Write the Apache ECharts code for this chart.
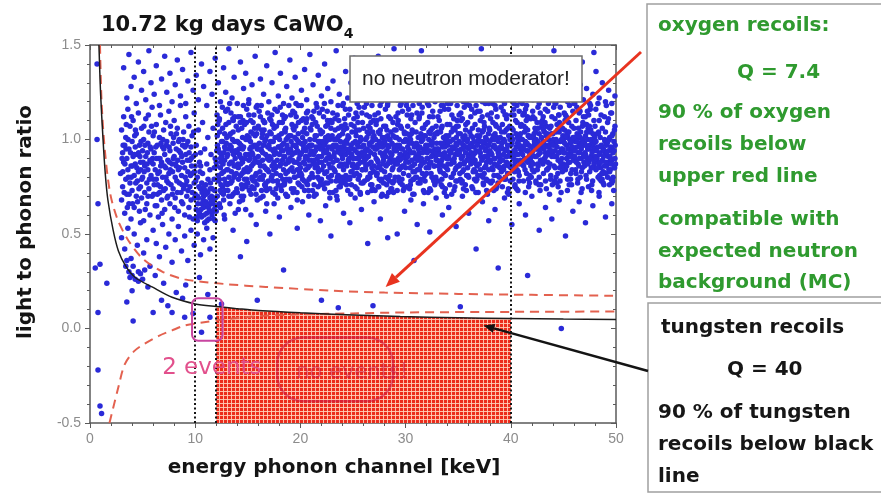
<!DOCTYPE html>
<html>
<head>
<meta charset="utf-8">
<title>CaWO4 light yield vs phonon energy</title>
<script src="https://cdn.jsdelivr.net/npm/echarts@6/dist/echarts.min.js"></script>
<style>
  html, body { margin: 0; padding: 0; background: #fff; }
  #chart { width: 881px; height: 494px; }
</style>
</head>
<body>
<div id="chart"></div>
<script>
// ---------- axes ----------
const xTickValues = [0, 10, 20, 30, 40, 50];
const yTickValues = [-0.5, 0, 0.5, 1.0, 1.5];
const yTickLabels = ['-0.5', '0.0', '0.5', '1.0', '1.5'];

// dotted energy markers [keV]
const cutLines = [10, 12, 40];
// acceptance window for the shaded tungsten region [keV]
const acceptance = [12, 40];

// ---------- bands ----------
// 90 % tungsten recoil line (solid black)
const tungstenLine = [
  [0.85, 1.5], [1.0, 1.25], [1.24, 1.0], [1.45, 0.82], [1.7, 0.68], [2.2, 0.52],
  [2.7, 0.41], [3.4, 0.33], [4.3, 0.27], [5.9, 0.22], [7.8, 0.165], [10, 0.13],
  [12, 0.116], [14, 0.105], [16, 0.095], [20, 0.083], [25, 0.072], [29.5, 0.063],
  [35, 0.057], [40, 0.053], [45, 0.05], [50, 0.048]
];
// oxygen recoil band, upper and lower 90 % lines (red dashed)
const oxygenUpper = [
  [0.95, 1.5], [1.1, 1.2], [1.4, 0.95], [1.9, 0.72], [2.6, 0.58], [3.6, 0.47],
  [5, 0.37], [6.9, 0.30], [9, 0.26], [12.9, 0.235], [16.7, 0.22], [23, 0.20],
  [28, 0.19], [35, 0.183], [42, 0.178], [50, 0.173]
];
const oxygenLower = [
  [1.85, -0.5], [2.7, -0.31], [3.3, -0.19], [4.2, -0.12], [5.2, -0.08], [6.5, -0.04],
  [7.8, -0.01], [9, 0.016], [10.5, 0.03], [13, 0.05], [16, 0.065], [20, 0.075],
  [25, 0.08], [30, 0.085], [40, 0.088], [50, 0.09]
];

// ---------- events (energy keV, light/phonon ratio) ----------
const eventsLow = [
  [2.9,0.82],[3.0,1.05],[3.0,0.68],[3.1,0.93],[3.1,0.75],[3.2,1.12],[3.2,0.88],[3.3,0.61],[3.3,0.97],[3.4,0.79],[3.4,1.01],[3.5,0.71],[3.5,0.90],[3.6,0.84],[3.6,1.16],[3.7,0.66],[3.7,0.95],[3.8,0.77],[3.8,1.07],[3.9,0.86],[3.9,0.58],
  [4.0,0.99],[4.0,0.73],[4.1,0.91],[4.1,1.10],[4.2,0.81],[4.2,0.64],[4.3,0.96],[4.3,0.87],[4.4,0.70],[4.4,1.03],[4.5,0.78],[4.5,0.92],[4.6,1.14],[4.6,0.83],[4.7,0.62],[4.7,0.97],[4.8,0.75],[4.8,0.88],[4.9,1.06],[4.9,0.69],
  [5.0,0.94],[5.0,0.80],[5.1,0.57],[5.1,1.00],[5.2,0.86],[5.2,0.72],[5.3,1.11],[5.3,0.91],[5.4,0.77],[5.4,0.66],[5.5,0.98],[5.5,0.84],[5.6,1.04],[5.6,0.74],[5.7,0.89],[5.7,0.60],[5.8,0.95],[5.8,0.81],[5.9,1.17],[5.9,0.70],
  [6.0,0.87],[6.0,1.02],[6.1,0.76],[6.1,0.93],[6.2,0.65],[6.2,0.84],[6.3,1.08],[6.3,0.79],[6.4,0.97],[6.4,0.71],[6.5,0.90],[6.5,0.59],[6.6,1.01],[6.6,0.83],[6.7,0.75],[6.7,1.13],[6.8,0.88],[6.8,0.68],[6.9,0.96],[6.9,0.80],
  [7.0,1.05],[7.0,0.73],[7.1,0.92],[7.1,0.63],[7.2,0.85],[7.2,1.09],[7.3,0.78],[7.3,0.99],[7.4,0.70],[7.4,0.89],[7.5,1.15],[7.5,0.82],[7.6,0.94],[7.6,0.66],[7.7,0.76],[7.7,1.03],[7.8,0.87],[7.8,0.58],[7.9,0.98],[7.9,0.74],
  [8.0,0.91],[8.0,1.10],[8.1,0.80],[8.1,0.69],[8.2,0.95],[8.2,0.86],[8.3,1.06],[8.3,0.72],[8.4,0.84],[8.4,0.62],[8.5,1.00],[8.5,0.77],[8.6,0.93],[8.6,1.18],[8.7,0.81],[8.7,0.67],[8.8,0.97],[8.8,0.88],[8.9,0.74],[8.9,1.04],
  [9.0,0.85],[9.0,0.60],[9.1,0.92],[9.1,1.12],[9.2,0.78],[9.2,0.70],[9.3,0.99],[9.3,0.83],[9.4,0.64],[9.4,1.07],[9.5,0.89],[9.5,0.75],[9.6,0.96],[9.6,0.68],[9.7,1.02],[9.7,0.82],[9.8,0.58],[9.8,0.91],[9.9,0.77],[9.9,1.14],
  [10.0,0.86],[10.0,0.71],[10.1,0.63],[10.1,0.97],[10.2,0.80],[10.2,0.57],[10.3,1.05],[10.3,0.69],[10.4,0.88],[10.4,0.61],[10.5,0.74],[10.5,0.93],[10.6,0.66],[10.6,0.59],[10.7,0.82],[10.7,1.09],[10.8,0.70],[10.8,0.64],[10.9,0.95],[10.9,0.56],
  [11.0,0.76],[11.0,0.67],[11.1,0.87],[11.1,0.61],[11.2,1.01],[11.2,0.72],[11.3,0.58],[11.3,0.65],[11.4,0.84],[11.4,0.69],[11.5,0.62],[11.5,0.92],[11.6,0.74],[11.6,0.60],[11.7,1.06],[11.7,0.68],[11.8,0.79],[11.8,0.63],[11.9,0.90],[11.9,0.57],
  [3.05,0.90],[3.25,0.72],[3.45,1.08],[3.65,0.80],[3.85,0.93],[4.05,0.66],[4.25,1.02],[4.45,0.85],[4.65,0.74],[4.85,0.99],[5.05,0.88],[5.25,0.63],[5.45,0.93],[5.65,0.79],[5.85,1.07],[6.05,0.71],[6.25,0.96],[6.45,0.82],[6.65,0.90],[6.85,0.61],
  [7.05,0.86],[7.25,0.97],[7.45,0.77],[7.65,1.07],[7.85,0.83],[8.05,0.64],[8.25,0.78],[8.45,0.94],[8.65,0.72],[8.85,1.00],[9.05,0.80],[9.25,0.89],[9.45,0.59],[9.65,0.86],[9.85,1.04],[10.05,0.78],[10.25,0.66],[10.45,0.83],[10.65,0.72],[10.85,0.60],
  [11.05,0.71],[11.25,0.64],[11.45,0.77],[11.65,0.66],[11.85,0.73],[10.15,0.59],[10.35,0.75],[10.55,0.63],[10.75,0.68],[10.95,0.73],[11.15,0.66],[11.35,0.62],[11.55,0.70],[11.75,0.58],[11.95,0.65],
  [3.15,0.97],[3.55,0.64],[3.95,1.12],[4.35,0.77],[4.75,0.91],[5.15,0.83],[5.55,1.13],[5.95,0.90],[6.35,0.65],[6.75,0.98],[7.15,0.74],[7.55,0.88],[7.95,1.01],[8.35,0.89],[8.75,0.76],[9.15,0.97],[9.55,0.81],[9.95,0.69],
  [3.12,0.83],[3.42,0.95],[3.72,0.71],[4.02,0.86],[4.32,1.05],[4.62,0.93],[4.92,0.79],[5.22,0.97],[5.52,0.70],[5.82,0.88],[6.12,1.04],[6.42,0.76],[6.72,0.86],[7.02,0.95],[7.32,0.69],[7.62,0.84],[7.92,0.90],[8.22,1.03],[8.52,0.85],[8.82,0.66],
  [9.12,0.76],[9.42,0.93],[9.72,0.72],[10.02,0.92],[10.32,0.62],[10.62,0.77],[10.92,0.66],[11.22,0.79],[11.52,0.67],[11.82,0.85],[3.32,0.87],[3.62,1.00],[3.92,0.80],[4.22,0.92],[4.52,0.67],[4.82,0.84],[5.12,1.07],[5.42,0.87],[5.72,0.96],[6.02,0.79],
  [6.32,0.90],[6.62,0.72],[6.92,1.00],[7.22,0.80],[7.52,0.96],[7.82,0.71],[8.12,0.87],[8.42,0.99],[8.72,0.91],[9.02,0.96],[9.32,0.73],[9.62,0.90],[9.92,0.83],[10.22,0.70],[10.52,0.86],[10.82,0.75],[11.12,0.57],[11.42,0.74],[11.72,0.62],[11.92,0.69]
];

const eventsMid = [
  [12.0,0.88],[12.1,1.02],[12.1,0.70],[12.2,0.95],[12.3,0.79],[12.3,1.11],[12.4,0.85],[12.4,0.64],[12.5,0.99],[12.5,0.91],[12.6,0.75],[12.6,1.06],[12.7,0.83],[12.7,0.68],[12.8,0.96],[12.8,0.89],[12.9,1.15],[12.9,0.77],[12.0,0.62],[12.2,0.81],[12.5,0.72],[12.8,1.03],[12.35,0.93],[12.65,0.87],[12.95,0.98],[12.15,1.08],[12.45,0.76],[12.75,0.60],[12.05,0.94],
  [13.0,0.84],[13.0,1.01],[13.1,0.73],[13.1,0.92],[13.2,1.09],[13.2,0.80],[13.3,0.97],[13.3,0.66],[13.4,0.88],[13.4,1.14],[13.5,0.78],[13.5,0.94],[13.6,1.04],[13.6,0.71],[13.7,0.86],[13.7,0.99],[13.8,0.61],[13.8,0.90],[13.9,1.07],[13.9,0.82],[13.15,0.95],[13.45,0.83],[13.75,1.12],[13.05,0.76],[13.35,1.03],[13.65,0.92],[13.95,0.74],[13.25,0.87],[13.55,1.00],
  [14.0,0.93],[14.0,0.72],[14.1,1.05],[14.1,0.85],[14.2,0.98],[14.2,0.67],[14.3,0.81],[14.3,1.12],[14.4,0.90],[14.4,0.76],[14.5,1.01],[14.5,0.88],[14.6,0.70],[14.6,0.96],[14.7,1.08],[14.7,0.83],[14.8,0.92],[14.8,0.63],[14.9,1.16],[14.9,0.79],[14.05,0.87],[14.35,0.97],[14.65,0.84],[14.95,1.02],[14.25,0.91],[14.55,1.10],[14.85,0.75],[14.15,0.95],[14.45,0.82],
  [15.0,1.00],[15.0,0.77],[15.1,0.89],[15.1,1.13],[15.2,0.84],[15.2,0.95],[15.3,0.71],[15.3,1.04],[15.4,0.93],[15.4,0.80],[15.5,1.09],[15.5,0.87],[15.6,0.97],[15.6,0.74],[15.7,1.02],[15.7,0.90],[15.8,0.82],[15.8,1.17],[15.9,0.95],[15.9,0.68],[15.05,0.92],[15.35,0.86],[15.65,1.06],[15.95,0.88],[15.25,0.99],[15.55,0.78],[15.85,1.03],[15.15,0.73],[15.45,0.96],
  [16.0,0.91],[16.0,1.07],[16.1,0.79],[16.1,0.98],[16.2,1.12],[16.2,0.86],[16.3,0.94],[16.3,0.73],[16.4,1.03],[16.4,0.89],[16.5,0.81],[16.5,0.97],[16.6,1.09],[16.6,0.76],[16.7,0.92],[16.7,1.00],[16.8,0.84],[16.8,0.66],[16.9,0.96],[16.9,1.14],[16.05,0.88],[16.35,1.01],[16.65,0.85],[16.95,0.78],[16.25,0.95],[16.55,1.05],[16.85,0.90],[16.15,0.83],[16.45,0.70],
  [17.0,0.97],[17.0,0.83],[17.1,1.04],[17.1,0.74],[17.2,0.90],[17.2,1.10],[17.3,0.86],[17.3,0.99],[17.4,0.78],[17.4,0.94],[17.5,1.06],[17.5,0.88],[17.6,0.71],[17.6,1.01],[17.7,0.93],[17.7,0.82],[17.8,1.15],[17.8,0.89],[17.9,0.96],[17.9,0.76],[17.05,0.91],[17.35,1.08],[17.65,0.85],[17.95,1.02],[17.25,0.80],[17.55,0.95],[17.85,0.69],[17.15,0.99],[17.45,0.87],
  [18.0,0.92],[18.0,1.09],[18.1,0.81],[18.1,0.96],[18.2,0.73],[18.2,1.03],[18.3,0.89],[18.3,1.13],[18.4,0.84],[18.4,0.98],[18.5,0.77],[18.5,0.91],[18.6,1.06],[18.6,0.87],[18.7,0.95],[18.7,0.70],[18.8,1.01],[18.8,0.83],[18.9,0.93],[18.9,1.18],[18.05,0.86],[18.35,0.94],[18.65,1.00],[18.95,0.79],[18.25,0.97],[18.55,1.04],[18.85,0.88],[18.15,0.75],[18.45,1.11],
  [19.0,0.90],[19.0,0.78],[19.1,1.02],[19.1,0.94],[19.2,0.85],[19.2,1.08],[19.3,0.72],[19.3,0.97],[19.4,1.05],[19.4,0.88],[19.5,0.93],[19.5,0.80],[19.6,1.12],[19.6,0.96],[19.7,0.84],[19.7,0.68],[19.8,0.99],[19.8,1.03],[19.9,0.87],[19.9,0.76],[19.05,0.95],[19.35,0.83],[19.65,1.00],[19.95,0.92],[19.25,0.89],[19.55,1.07],[19.85,0.81],[19.15,0.74],[19.45,1.14],
  [20.0,0.98],[20.0,0.85],[20.1,0.93],[20.1,1.10],[20.2,0.79],[20.2,1.01],[20.3,0.88],[20.3,0.95],[20.4,0.73],[20.4,1.06],[20.5,0.91],[20.5,0.84],[20.6,1.03],[20.6,0.77],[20.7,0.96],[20.7,1.15],[20.8,0.89],[20.8,0.70],[20.9,1.00],[20.9,0.92],[20.05,0.82],[20.35,1.04],[20.65,0.90],[20.95,0.80],[20.25,0.97],[20.55,1.09],[20.85,0.86],[20.15,0.75],[20.45,0.99],
  [21.0,0.94],[21.0,1.05],[21.1,0.82],[21.1,0.97],[21.2,1.11],[21.2,0.87],[21.3,0.76],[21.3,0.93],[21.4,1.02],[21.4,0.85],[21.5,0.96],[21.5,0.71],[21.6,0.90],[21.6,1.07],[21.7,0.83],[21.7,0.99],[21.8,1.14],[21.8,0.88],[21.9,0.78],[21.9,0.95],[21.05,0.89],[21.35,1.00],[21.65,0.80],[21.95,1.03],[21.25,0.92],[21.55,0.86],[21.85,0.97],[21.15,0.73],[21.45,1.09],
  [22.0,0.91],[22.0,0.79],[22.1,1.04],[22.1,0.95],[22.2,0.86],[22.2,1.12],[22.3,0.98],[22.3,0.74],[22.4,0.89],[22.4,1.01],[22.5,0.83],[22.5,0.94],[22.6,1.08],[22.6,0.77],[22.7,0.92],[22.7,0.87],[22.8,1.00],[22.8,0.69],[22.9,0.96],[22.9,1.06],[22.05,0.84],[22.35,0.93],[22.65,1.02],[22.95,0.81],[22.25,0.97],[22.55,1.15],[22.85,0.90],[22.15,0.76],[22.45,0.99],
  [23.0,0.95],[23.0,1.09],[23.1,0.88],[23.1,0.72],[23.2,1.00],[23.2,0.91],[23.3,0.83],[23.3,1.05],[23.4,0.97],[23.4,0.78],[23.5,1.13],[23.5,0.89],[23.6,0.94],[23.6,0.81],[23.7,1.02],[23.7,0.86],[23.8,0.75],[23.8,0.99],[23.9,1.07],[23.9,0.92],[23.05,0.85],[23.35,0.96],[23.65,1.10],[23.95,0.80],[23.25,0.93],[23.55,1.01],[23.85,0.87],[23.15,0.97],[23.45,0.70],
  [24.0,0.90],[24.0,1.03],[24.1,0.84],[24.1,0.96],[24.2,1.11],[24.2,0.77],[24.3,0.92],[24.3,0.99],[24.4,0.86],[24.4,1.06],[24.5,0.73],[24.5,0.94],[24.6,1.01],[24.6,0.88],[24.7,0.80],[24.7,1.16],[24.8,0.97],[24.8,0.83],[24.9,0.91],[24.9,1.04],[24.05,0.79],[24.35,0.95],[24.65,0.93],[24.95,0.86],[24.25,1.08],[24.55,0.89],[24.85,0.76],[24.15,0.98],[24.45,1.00],
  [25.0,0.87],[25.0,0.98],[25.1,1.07],[25.1,0.81],[25.2,0.94],[25.2,0.75],[25.3,1.02],[25.3,0.90],[25.4,0.85],[25.4,1.12],[25.5,0.96],[25.5,0.79],[25.6,0.92],[25.6,1.05],[25.7,0.88],[25.7,0.71],[25.8,1.00],[25.8,0.93],[25.9,0.84],[25.9,1.09],[25.05,0.95],[25.35,0.82],[25.65,0.99],[25.95,0.77],[25.25,1.04],[25.55,0.90],[25.85,1.14],[25.15,0.86],[25.45,0.97]
];

const eventsHigh = [
  [26.0,0.93],[26.0,1.06],[26.1,0.78],[26.1,0.89],[26.2,1.00],[26.2,0.84],[26.3,1.13],[26.3,0.95],[26.4,0.72],[26.4,0.91],[26.5,1.03],[26.5,0.87],[26.6,0.97],[26.6,0.80],[26.7,1.09],[26.7,0.93],[26.8,0.85],[26.8,0.76],[26.9,1.01],[26.9,0.96],[26.05,0.88],[26.35,1.04],[26.65,0.82],[26.95,1.10],[26.25,0.90],[26.55,0.98],[26.85,0.74],[26.15,0.94],[26.45,1.07],
  [27.0,0.86],[27.0,1.02],[27.1,0.95],[27.1,0.73],[27.2,0.90],[27.2,1.08],[27.3,0.82],[27.3,0.97],[27.4,1.14],[27.4,0.88],[27.5,0.79],[27.5,0.99],[27.6,0.93],[27.6,1.05],[27.7,0.84],[27.7,0.70],[27.8,0.96],[27.8,1.01],[27.9,0.89],[27.9,0.77],[27.05,0.92],[27.35,0.85],[27.65,1.11],[27.95,0.98],[27.25,0.81],[27.55,1.03],[27.85,0.91],[27.15,1.00],[27.45,0.75],
  [28.0,0.99],[28.0,0.83],[28.1,0.91],[28.1,1.07],[28.2,0.76],[28.2,0.94],[28.3,1.02],[28.3,0.87],[28.4,0.96],[28.4,1.12],[28.5,0.81],[28.5,0.90],[28.6,1.04],[28.6,0.74],[28.7,0.92],[28.7,0.98],[28.8,0.85],[28.8,1.09],[28.9,0.78],[28.9,0.95],[28.05,1.01],[28.35,0.79],[28.65,0.88],[28.95,1.05],[28.25,0.97],[28.55,0.93],[28.85,0.72],[28.15,0.86],[28.45,1.00],
  [29.0,0.94],[29.0,0.80],[29.1,1.05],[29.1,0.88],[29.2,0.97],[29.2,0.73],[29.3,0.90],[29.3,1.10],[29.4,0.84],[29.4,1.00],[29.5,0.92],[29.5,0.77],[29.6,1.06],[29.6,0.95],[29.7,0.86],[29.7,1.15],[29.8,0.99],[29.8,0.82],[29.9,0.91],[29.9,1.03],[29.05,0.87],[29.35,0.96],[29.65,0.79],[29.95,0.93],[29.25,1.08],[29.55,0.85],[29.85,0.74],[29.15,1.01],[29.45,0.89],
  [30.0,1.00],[30.0,0.85],[30.1,0.92],[30.1,0.75],[30.2,1.07],[30.2,0.96],[30.3,0.88],[30.3,0.81],[30.4,1.02],[30.4,0.94],[30.5,0.78],[30.5,1.11],[30.6,0.89],[30.6,0.98],[30.7,0.83],[30.7,1.04],[30.8,0.93],[30.8,0.71],[30.9,0.97],[30.9,1.09],[30.05,0.90],[30.35,1.00],[30.65,0.86],[30.95,0.80],[30.25,0.95],[30.55,1.03],[30.85,0.87],[30.15,1.13],[30.45,0.76],
  [31.0,0.91],[31.0,1.04],[31.1,0.84],[31.1,0.97],[31.2,0.77],[31.2,1.01],[31.3,0.93],[31.3,1.12],[31.4,0.86],[31.4,0.79],[31.5,0.99],[31.5,0.90],[31.6,1.06],[31.6,0.82],[31.7,0.95],[31.7,0.73],[31.8,1.02],[31.8,0.88],[31.9,0.94],[31.9,1.08],[31.05,0.80],[31.35,0.96],[31.65,1.00],[31.95,0.85],[31.25,0.92],[31.55,1.14],[31.85,0.78],[31.15,0.89],[31.45,1.03],
  [32.0,0.96],[32.0,0.82],[32.1,1.09],[32.1,0.90],[32.2,0.85],[32.2,1.00],[32.3,0.74],[32.3,0.94],[32.4,1.05],[32.4,0.88],[32.5,0.97],[32.5,0.80],[32.6,1.12],[32.6,0.92],[32.7,0.86],[32.7,1.01],[32.8,0.77],[32.8,0.95],[32.9,1.07],[32.9,0.89],[32.05,0.93],[32.35,1.03],[32.65,0.79],[32.95,0.98],[32.25,0.87],[32.55,1.06],[32.85,0.91],[32.15,0.72],[32.45,0.99],
  [33.0,0.89],[33.0,1.03],[33.1,0.95],[33.1,0.78],[33.2,1.10],[33.2,0.87],[33.3,0.98],[33.3,0.83],[33.4,0.92],[33.4,1.06],[33.5,0.75],[33.5,0.96],[33.6,1.01],[33.6,0.86],[33.7,0.93],[33.7,1.16],[33.8,0.81],[33.8,0.99],[33.9,0.90],[33.9,0.70],[33.05,1.04],[33.35,0.88],[33.65,0.97],[33.95,1.08],[33.25,0.84],[33.55,0.91],[33.85,1.02],[33.15,0.94],[33.45,0.79],
  [34.0,0.97],[34.0,0.84],[34.1,1.02],[34.1,0.91],[34.2,0.76],[34.2,1.08],[34.3,0.93],[34.3,0.87],[34.4,1.13],[34.4,0.80],[34.5,0.95],[34.5,1.00],[34.6,0.88],[34.6,0.73],[34.7,1.05],[34.7,0.92],[34.8,0.85],[34.8,0.98],[34.9,1.10],[34.9,0.78],[34.05,0.90],[34.35,1.04],[34.65,0.96],[34.95,0.86],[34.25,0.99],[34.55,0.82],[34.85,1.07],[34.15,0.94],[34.45,0.89],
  [35.0,0.92],[35.0,1.07],[35.1,0.86],[35.1,0.99],[35.2,1.03],[35.2,0.79],[35.3,0.95],[35.3,0.90],[35.4,0.83],[35.4,1.11],[35.5,0.97],[35.5,0.74],[35.6,1.00],[35.6,0.88],[35.7,0.93],[35.7,1.05],[35.8,0.81],[35.8,0.96],[35.9,1.09],[35.9,0.85],[35.05,0.94],[35.35,0.77],[35.65,1.02],[35.95,0.91],[35.25,1.14],[35.55,0.87],[35.85,0.99],[35.15,0.82],[35.45,1.01],
  [36.0,0.95],[36.0,0.80],[36.1,1.04],[36.1,0.92],[36.2,0.87],[36.2,1.12],[36.3,0.98],[36.3,0.75],[36.4,0.90],[36.4,1.01],[36.5,0.84],[36.5,0.96],[36.6,1.08],[36.6,0.89],[36.7,0.78],[36.7,0.94],[36.8,1.02],[36.8,0.86],[36.9,0.99],[36.9,0.72],[36.05,0.91],[36.35,1.06],[36.65,0.83],[36.95,1.00],[36.25,0.93],[36.55,0.79],[36.85,1.15],[36.15,0.97],[36.45,0.88],
  [37.0,0.99],[37.0,0.87],[37.1,0.93],[37.1,1.10],[37.2,0.81],[37.2,0.96],[37.3,1.04],[37.3,0.90],[37.4,0.76],[37.4,0.98],[37.5,1.07],[37.5,0.85],[37.6,0.94],[37.6,1.01],[37.7,0.88],[37.7,0.73],[37.8,0.97],[37.8,1.13],[37.9,0.84],[37.9,0.92],[37.05,1.02],[37.35,0.80],[37.65,0.95],[37.95,1.06],[37.25,0.89],[37.55,0.99],[37.85,0.78],[37.15,0.91],[37.45,1.09],
  [38.0,0.94],[38.0,1.05],[38.1,0.89],[38.1,0.77],[38.2,1.00],[38.2,0.92],[38.3,0.84],[38.3,1.09],[38.4,0.97],[38.4,0.81],[38.5,1.03],[38.5,0.90],[38.6,0.74],[38.6,0.95],[38.7,1.12],[38.7,0.86],[38.8,0.99],[38.8,0.93],[38.9,0.80],[38.9,1.06],[38.05,0.88],[38.35,0.96],[38.65,1.01],[38.95,0.85],[38.25,0.78],[38.55,1.08],[38.85,0.91],[38.15,1.14],[38.45,0.87],
  [39.0,0.90],[39.0,1.01],[39.1,0.96],[39.1,0.83],[39.2,1.08],[39.2,0.75],[39.3,0.92],[39.3,0.99],[39.4,0.86],[39.4,1.04],[39.5,0.79],[39.5,0.94],[39.6,1.11],[39.6,0.88],[39.7,0.97],[39.7,0.82],[39.8,1.02],[39.8,0.71],[39.9,0.93],[39.9,1.07],[39.05,0.85],[39.35,1.00],[39.65,0.91],[39.95,0.78],[39.25,0.95],[39.55,1.05],[39.85,0.87],[39.15,0.98],[39.45,1.13]
];

const eventsTop = [
  [40.0,0.97],[40.0,0.85],[40.1,1.06],[40.1,0.91],[40.2,0.79],[40.2,1.00],[40.3,0.94],[40.3,1.13],[40.4,0.88],[40.4,0.76],[40.5,1.03],[40.5,0.96],[40.6,0.84],[40.6,1.09],[40.7,0.92],[40.7,0.99],[40.8,1.15],[40.8,0.81],[40.9,0.95],[40.9,0.89],[40.05,1.02],[40.35,0.83],[40.65,0.98],[40.95,1.07],[40.25,0.90],[40.55,0.74],[40.85,1.01],[40.15,0.93],[40.45,1.10],
  [41.0,0.93],[41.0,1.08],[41.1,0.87],[41.1,1.00],[41.2,0.95],[41.2,0.78],[41.3,1.04],[41.3,0.90],[41.4,0.99],[41.4,1.16],[41.5,0.82],[41.5,0.94],[41.6,1.05],[41.6,0.88],[41.7,0.97],[41.7,0.75],[41.8,1.01],[41.8,0.92],[41.9,0.86],[41.9,1.11],[41.05,0.96],[41.35,0.84],[41.65,1.02],[41.95,0.80],[41.25,1.07],[41.55,0.98],[41.85,0.91],[41.15,1.13],[41.45,0.89],
  [42.0,1.01],[42.0,0.88],[42.1,0.94],[42.1,1.12],[42.2,0.83],[42.2,0.97],[42.3,1.06],[42.3,0.91],[42.4,0.77],[42.4,1.00],[42.5,0.95],[42.5,1.09],[42.6,0.86],[42.6,0.99],[42.7,1.03],[42.7,0.80],[42.8,0.93],[42.8,1.14],[42.9,0.89],[42.9,0.97],[42.05,0.84],[42.35,1.04],[42.65,0.92],[42.95,1.07],[42.25,0.99],[42.55,0.87],[42.85,0.76],[42.15,1.02],[42.45,0.95],
  [43.0,0.96],[43.0,1.10],[43.1,0.82],[43.1,0.99],[43.2,1.04],[43.2,0.90],[43.3,0.93],[43.3,0.78],[43.4,1.07],[43.4,0.97],[43.5,0.88],[43.5,1.15],[43.6,1.00],[43.6,0.85],[43.7,0.94],[43.7,1.06],[43.8,0.81],[43.8,0.98],[43.9,1.12],[43.9,0.91],[43.05,0.87],[43.35,1.02],[43.65,0.96],[43.95,0.76],[43.25,1.09],[43.55,0.92],[43.85,1.03],[43.15,0.95],[43.45,0.84],
  [44.0,0.92],[44.0,1.03],[44.1,0.98],[44.1,0.86],[44.2,1.11],[44.2,0.94],[44.3,0.80],[44.3,1.00],[44.4,0.96],[44.4,1.08],[44.5,0.89],[44.5,0.75],[44.6,1.04],[44.6,0.93],[44.7,0.99],[44.7,1.17],[44.8,0.87],[44.8,0.95],[44.9,1.06],[44.9,0.83],[44.05,1.00],[44.35,0.91],[44.65,0.85],[44.95,1.02],[44.25,0.97],[44.55,1.13],[44.85,0.90],[44.15,0.78],[44.45,1.05],
  [45.0,0.99],[45.0,0.87],[45.1,1.05],[45.1,0.93],[45.2,0.84],[45.2,1.13],[45.3,0.97],[45.3,0.90],[45.4,1.02],[45.4,0.79],[45.5,0.95],[45.5,1.09],[45.6,0.88],[45.6,1.00],[45.7,0.93],[45.7,0.82],[45.8,1.07],[45.8,0.96],[45.9,0.91],[45.9,1.15],[45.05,0.85],[45.35,1.04],[45.65,0.98],[45.95,0.89],[45.25,1.01],[45.55,0.76],[45.85,0.94],[45.15,1.10],[45.45,0.92],
  [46.0,0.94],[46.0,1.06],[46.1,0.89],[46.1,0.99],[46.2,1.10],[46.2,0.82],[46.3,0.96],[46.3,1.03],[46.4,0.87],[46.4,0.93],[46.5,1.14],[46.5,0.98],[46.6,0.80],[46.6,1.01],[46.7,0.95],[46.7,0.90],[46.8,1.07],[46.8,0.85],[46.9,0.97],[46.9,1.12],[46.05,0.91],[46.35,0.77],[46.65,1.04],[46.95,0.88],[46.25,1.00],[46.55,0.93],[46.85,1.09],[46.15,0.84],[46.45,1.02],
  [47.0,0.98],[47.0,0.86],[47.1,1.02],[47.1,0.92],[47.2,0.79],[47.2,1.08],[47.3,0.95],[47.3,1.00],[47.4,0.88],[47.4,1.13],[47.5,0.97],[47.5,0.83],[47.6,1.05],[47.6,0.91],[47.7,0.99],[47.7,0.76],[47.8,1.03],[47.8,0.94],[47.9,0.87],[47.9,1.10],[47.05,0.93],[47.35,1.06],[47.65,0.85],[47.95,1.01],[47.25,0.90],[47.55,1.16],[47.85,0.96],[47.15,0.81],[47.45,1.04],
  [48.0,0.95],[48.0,1.07],[48.1,0.84],[48.1,0.99],[48.2,1.03],[48.2,0.90],[48.3,0.80],[48.3,0.96],[48.4,1.10],[48.4,0.87],[48.5,0.93],[48.5,1.01],[48.6,0.78],[48.6,0.97],[48.7,1.06],[48.7,0.89],[48.8,0.83],[48.8,0.95],[48.9,1.12],[48.9,0.86],[48.05,0.91],[48.35,1.04],[48.65,0.82],[48.95,0.99],[48.25,0.88],[48.55,0.85],[48.85,0.76],[48.15,0.94],[48.45,0.81],
  [49.0,0.92],[49.0,1.04],[49.1,0.86],[49.1,0.97],[49.2,0.80],[49.2,1.09],[49.3,0.94],[49.3,0.88],[49.4,1.01],[49.4,0.83],[49.5,0.96],[49.5,1.14],[49.6,0.89],[49.6,0.77],[49.7,1.03],[49.7,0.93],[49.8,0.85],[49.8,0.99],[49.9,1.07],[49.9,0.90],[49.05,0.82],[49.35,1.00],[49.65,0.95],[49.95,0.87],[49.25,0.91],[49.55,0.79],[49.85,1.05],[49.15,0.98],[49.45,0.84]
];

// core of the band, 12-50 keV
const eventsCore = [
  [12.02,0.86],[12.12,0.97],[12.22,0.78],[12.32,1.04],[12.42,0.90],[12.52,0.82],[12.62,0.99],[12.72,0.93],[12.82,0.73],[12.92,1.08],[12.47,0.88],[12.87,0.95],
  [13.02,0.91],[13.12,0.84],[13.22,1.02],[13.32,0.77],[13.42,0.96],[13.52,0.88],[13.62,1.10],[13.72,0.81],[13.82,0.94],[13.92,0.99],[13.47,0.70],[13.87,0.86],
  [14.02,0.99],[14.12,0.79],[14.22,0.92],[14.32,0.87],[14.42,1.06],[14.52,0.95],[14.62,0.83],[14.72,0.90],[14.82,1.00],[14.92,0.85],[14.47,0.74],[14.87,1.09],
  [15.02,0.83],[15.12,1.01],[15.22,0.90],[15.32,0.96],[15.42,0.79],[15.52,1.03],[15.62,0.88],[15.72,0.81],[15.82,0.97],[15.92,1.06],[15.47,0.92],[15.87,0.76],
  [16.02,0.95],[16.12,0.88],[16.22,0.80],[16.32,1.05],[16.42,0.93],[16.52,0.86],[16.62,0.99],[16.72,0.77],[16.82,1.02],[16.92,0.90],[16.47,1.10],[16.87,0.84],
  [17.02,0.89],[17.12,0.95],[17.22,1.03],[17.32,0.81],[17.42,0.99],[17.52,0.92],[17.62,0.86],[17.72,1.07],[17.82,0.78],[17.92,0.96],[17.47,0.84],[17.87,1.01],
  [18.02,1.00],[18.12,0.87],[18.22,0.94],[18.32,0.79],[18.42,0.91],[18.52,1.05],[18.62,0.82],[18.72,0.97],[18.82,0.89],[18.92,1.02],[18.47,0.76],[18.87,0.93],
  [19.02,0.84],[19.12,0.99],[19.22,0.92],[19.32,1.06],[19.42,0.80],[19.52,0.97],[19.62,0.88],[19.72,0.94],[19.82,1.09],[19.92,0.83],[19.47,1.01],[19.87,0.90],
  [20.02,0.92],[20.12,0.81],[20.22,1.04],[20.32,0.98],[20.42,0.87],[20.52,0.94],[20.62,1.11],[20.72,0.85],[20.82,0.79],[20.92,1.06],[20.47,0.90],[20.87,0.97],
  [21.02,0.97],[21.12,1.08],[21.22,0.80],[21.32,0.89],[21.42,0.94],[21.52,1.02],[21.62,0.85],[21.72,0.91],[21.82,0.99],[21.92,0.76],[21.47,0.87],[21.87,1.05],
  [22.02,0.88],[22.12,0.99],[22.22,0.93],[22.32,0.82],[22.42,1.07],[22.52,0.90],[22.62,0.96],[22.72,1.01],[22.82,0.85],[22.92,0.78],[22.47,0.94],[22.87,1.10],
  [23.02,1.02],[23.12,0.91],[23.22,0.84],[23.32,0.97],[23.42,0.89],[23.52,0.80],[23.62,1.06],[23.72,0.93],[23.82,0.96],[23.92,0.86],[23.47,1.00],[23.87,0.77],
  [24.02,0.94],[24.12,1.05],[24.22,0.87],[24.32,0.81],[24.42,0.98],[24.52,1.02],[24.62,0.90],[24.72,0.95],[24.82,1.08],[24.92,0.83],[24.47,0.79],[24.87,0.92],
  [25.02,0.90],[25.12,0.85],[25.22,0.99],[25.32,1.05],[25.42,0.93],[25.52,0.87],[25.62,0.81],[25.72,1.01],[25.82,0.96],[25.92,0.91],[25.47,1.09],[25.87,0.84],
  [26.02,0.97],[26.12,0.92],[26.22,0.86],[26.32,1.01],[26.42,0.80],[26.52,0.94],[26.62,1.06],[26.72,0.88],[26.82,0.99],[26.92,0.83],[26.47,0.91],[26.87,1.04],
  [27.02,0.83],[27.12,1.00],[27.22,0.95],[27.32,0.89],[27.42,1.04],[27.52,0.86],[27.62,0.98],[27.72,0.79],[27.82,0.92],[27.92,1.07],[27.47,0.96],[27.87,0.87],
  [28.02,0.93],[28.12,0.80],[28.22,1.05],[28.32,0.96],[28.42,0.88],[28.52,1.00],[28.62,0.91],[28.72,0.84],[28.82,1.02],[28.92,0.89],[28.47,0.78],[28.87,0.97],
  [29.02,1.01],[29.12,0.94],[29.22,0.87],[29.32,0.80],[29.42,0.97],[29.52,1.07],[29.62,0.90],[29.72,0.95],[29.82,0.86],[29.92,0.99],[29.47,0.92],[29.87,1.04],
  [30.02,0.88],[30.12,1.03],[30.22,0.91],[30.32,0.98],[30.42,0.85],[30.52,0.93],[30.62,1.05],[30.72,0.79],[30.82,0.96],[30.92,0.90],[30.47,1.00],[30.87,0.83],
  [31.02,0.98],[31.12,0.90],[31.22,0.95],[31.32,0.84],[31.42,1.01],[31.52,0.87],[31.62,0.93],[31.72,1.06],[31.82,0.81],[31.92,0.97],[31.47,0.89],[31.87,1.02],
  [32.02,0.90],[32.12,0.97],[32.22,1.04],[32.32,0.88],[32.42,0.82],[32.52,0.99],[32.62,0.94],[32.72,0.86],[32.82,1.03],[32.92,0.93],[32.47,0.91],[32.87,0.80],
  [33.02,0.95],[33.12,0.86],[33.22,0.92],[33.32,1.04],[33.42,0.89],[33.52,0.98],[33.62,0.82],[33.72,0.96],[33.82,0.91],[33.92,1.00],[33.47,1.07],[33.87,0.85],
  [34.02,0.87],[34.12,0.99],[34.22,0.93],[34.32,0.80],[34.42,0.96],[34.52,1.06],[34.62,0.90],[34.72,0.84],[34.82,1.01],[34.92,0.94],[34.47,0.88],[34.87,0.97],
  [35.02,1.03],[35.12,0.93],[35.22,0.87],[35.32,0.98],[35.42,0.91],[35.52,0.84],[35.62,0.96],[35.72,1.08],[35.82,0.89],[35.92,0.81],[35.47,0.95],[35.87,1.00],
  [36.02,0.89],[36.12,0.96],[36.22,1.02],[36.32,0.91],[36.42,0.83],[36.52,0.99],[36.62,0.93],[36.72,0.87],[36.82,0.97],[36.92,1.05],[36.47,0.92],[36.87,0.81],
  [37.02,0.94],[37.12,0.84],[37.22,0.99],[37.32,0.96],[37.42,1.05],[37.52,0.91],[37.62,0.86],[37.72,1.00],[37.82,0.90],[37.92,0.97],[37.47,0.82],[37.87,1.03],
  [38.02,0.99],[38.12,0.93],[38.22,0.85],[38.32,1.02],[38.42,0.90],[38.52,0.96],[38.62,1.07],[38.72,0.81],[38.82,0.94],[38.92,0.88],[38.47,1.00],[38.87,0.92],
  [39.02,0.96],[39.12,1.04],[39.22,0.89],[39.32,0.84],[39.42,0.99],[39.52,0.91],[39.62,0.95],[39.72,1.06],[39.82,0.86],[39.92,1.00],[39.47,0.80],[39.87,0.93],
  [40.02,0.91],[40.12,0.98],[40.22,1.05],[40.32,0.86],[40.42,0.94],[40.52,0.89],[40.62,1.01],[40.72,0.83],[40.82,0.97],[40.92,1.03],[40.47,0.92],[40.87,0.87],
  [41.02,1.00],[41.12,0.92],[41.22,0.86],[41.32,0.97],[41.42,1.06],[41.52,0.89],[41.62,0.94],[41.72,1.02],[41.82,0.81],[41.92,0.96],[41.47,1.10],[41.87,0.90],
  [42.02,0.93],[42.12,0.87],[42.22,1.03],[42.32,0.98],[42.42,0.91],[42.52,0.84],[42.62,1.06],[42.72,0.95],[42.82,0.89],[42.92,1.01],[42.47,0.97],[42.87,1.09],
  [43.02,0.88],[43.12,1.05],[43.22,0.96],[43.32,0.91],[43.42,0.84],[43.52,1.00],[43.62,0.93],[43.72,0.87],[43.82,1.07],[43.92,0.98],[43.47,1.03],[43.87,0.94],
  [44.02,0.97],[44.12,0.91],[44.22,0.85],[44.32,1.04],[44.42,0.99],[44.52,0.93],[44.62,1.09],[44.72,0.88],[44.82,1.00],[44.92,0.95],[44.47,0.82],[44.87,1.06],
  [45.02,0.93],[45.12,0.98],[45.22,1.02],[45.32,0.86],[45.42,0.95],[45.52,1.04],[45.62,0.91],[45.72,0.99],[45.82,0.84],[45.92,1.01],[45.47,0.88],[45.87,0.96],
  [46.02,1.01],[46.12,0.94],[46.22,0.88],[46.32,0.99],[46.42,1.06],[46.52,0.90],[46.62,0.96],[46.72,0.83],[46.82,1.00],[46.92,0.92],[46.47,0.86],[46.87,0.98],
  [47.02,0.91],[47.12,0.97],[47.22,1.04],[47.32,0.87],[47.42,0.95],[47.52,0.90],[47.62,1.00],[47.72,0.93],[47.82,0.85],[47.92,0.98],[47.47,1.07],[47.87,0.89],
  [48.02,0.99],[48.12,0.90],[48.22,0.85],[48.32,1.03],[48.42,0.92],[48.52,0.88],[48.62,0.96],[48.72,0.82],[48.82,0.91],[48.92,1.00],[48.47,0.79],[48.87,0.94],
  [49.02,0.88],[49.12,0.93],[49.22,0.99],[49.32,0.84],[49.42,0.91],[49.52,0.87],[49.62,1.02],[49.72,0.80],[49.82,0.94],[49.92,0.97],[49.47,0.90],[49.87,0.85]
];

// upper and lower fringes of the band, 12-50 keV
const eventsFringe = [
  [12.08,1.13],[12.38,0.73],[12.58,1.17],[12.78,0.79],[12.28,1.10],[12.68,0.71],
  [13.08,1.16],[13.38,0.77],[13.58,1.11],[13.78,0.72],[13.28,1.19],[13.68,0.80],
  [14.08,1.12],[14.38,0.70],[14.58,1.18],[14.78,0.76],[14.28,1.09],[14.68,0.79],
  [15.08,1.19],[15.38,0.75],[15.58,1.13],[15.78,0.71],[15.28,1.10],[15.68,0.78],
  [16.08,1.15],[16.38,0.79],[16.58,1.09],[16.78,0.73],[16.28,1.18],[16.68,0.75],
  [17.08,1.11],[17.38,0.72],[17.58,1.16],[17.78,0.78],[17.28,1.13],[17.68,0.74],
  [18.08,1.17],[18.38,0.76],[18.58,1.12],[18.78,0.70],[18.28,1.09],[18.68,0.79],
  [19.08,1.13],[19.38,0.74],[19.58,1.19],[19.78,0.77],[19.28,1.15],[19.68,0.72],
  [20.08,1.18],[20.38,0.78],[20.58,1.14],[20.78,0.73],[20.28,1.11],[20.68,0.76],
  [21.08,1.12],[21.38,0.71],[21.58,1.17],[21.78,0.79],[21.28,1.15],[21.68,0.75],
  [22.08,1.16],[22.38,0.77],[22.58,1.10],[22.78,0.72],[22.28,1.19],[22.68,0.80],
  [23.08,1.14],[23.38,0.73],[23.58,1.18],[23.78,0.78],[23.28,1.11],[23.68,0.75],
  [24.08,1.19],[24.38,0.76],[24.58,1.13],[24.78,0.71],[24.28,1.16],[24.68,0.79],
  [25.08,1.11],[25.38,0.74],[25.58,1.17],[25.78,0.77],[25.28,1.14],[25.68,0.72],
  [26.08,1.17],[26.38,0.79],[26.58,1.12],[26.78,0.73],[26.28,1.19],[26.68,0.76],
  [27.08,1.13],[27.38,0.75],[27.58,1.18],[27.78,0.71],[27.28,1.10],[27.68,0.78],
  [28.08,1.16],[28.38,0.72],[28.58,1.11],[28.78,0.77],[28.28,1.18],[28.68,0.74],
  [29.08,1.12],[29.38,0.78],[29.58,1.19],[29.78,0.73],[29.28,1.14],[29.68,0.76],
  [30.08,1.18],[30.38,0.74],[30.58,1.13],[30.78,0.79],[30.28,1.16],[30.68,0.71],
  [31.08,1.14],[31.38,0.77],[31.58,1.17],[31.78,0.72],[31.28,1.11],[31.68,0.79],
  [32.08,1.19],[32.38,0.73],[32.58,1.15],[32.78,0.76],[32.28,1.12],[32.68,0.78],
  [33.08,1.12],[33.38,0.76],[33.58,1.18],[33.78,0.74],[33.28,1.15],[33.68,0.72],
  [34.08,1.16],[34.38,0.71],[34.58,1.11],[34.78,0.78],[34.28,1.19],[34.68,0.75],
  [35.08,1.13],[35.38,0.78],[35.58,1.17],[35.78,0.73],[35.28,1.10],[35.68,0.76],
  [36.08,1.18],[36.38,0.74],[36.58,1.14],[36.78,0.79],[36.28,1.16],[36.68,0.72],
  [37.08,1.15],[37.38,0.77],[37.58,1.19],[37.78,0.71],[37.28,1.12],[37.68,0.79],
  [38.08,1.11],[38.38,0.73],[38.58,1.16],[38.78,0.77],[38.28,1.19],[38.68,0.75],
  [39.08,1.17],[39.38,0.79],[39.58,1.13],[39.78,0.74],[39.28,1.15],[39.68,0.72],
  [40.08,1.13],[40.38,0.75],[40.58,1.18],[40.78,0.78],[40.28,1.16],[40.68,0.73],
  [41.08,1.19],[41.38,0.72],[41.58,1.12],[41.78,0.77],[41.28,1.14],[41.68,0.79],
  [42.08,1.15],[42.38,0.78],[42.58,1.17],[42.78,0.73],[42.28,1.11],[42.68,0.76],
  [43.08,1.12],[43.38,0.74],[43.58,1.19],[43.78,0.79],[43.28,1.16],[43.68,0.71],
  [44.08,1.17],[44.38,0.77],[44.58,1.13],[44.78,0.72],[44.28,1.19],[44.68,0.78],
  [45.08,1.14],[45.38,0.73],[45.58,1.18],[45.78,0.76],[45.28,1.12],[45.68,0.79],
  [46.08,1.19],[46.38,0.79],[46.58,1.15],[46.78,0.74],[46.28,1.17],[46.68,0.72],
  [47.08,1.12],[47.38,0.75],[47.58,1.18],[47.78,0.78],[47.28,1.15],[47.68,0.73],
  [48.08,1.16],[48.38,0.72],[48.58,1.13],[48.78,0.77],[48.28,1.19],[48.68,0.79],
  [49.08,1.18],[49.38,0.76],[49.58,1.14],[49.78,0.73],[49.28,1.11],[49.68,0.78]
];

// sparse events above the main band
const eventsAbove = [
  [3.2,1.38],[3.5,1.22],[3.7,1.45],[3.9,1.28],[4.2,1.33],[4.4,1.19],[4.6,1.41],[4.9,1.26],[5.1,1.36],[5.3,1.21],[5.6,1.47],[5.8,1.30],[6.1,1.24],[6.3,1.39],[6.6,1.18],[6.8,1.32],[7.1,1.44],[7.3,1.25],[7.6,1.35],[7.8,1.20],
  [8.1,1.29],[8.3,1.42],[8.6,1.23],[8.8,1.37],[9.1,1.19],[9.3,1.31],[9.6,1.46],[9.8,1.26],[10.1,1.34],[10.3,1.21],[10.6,1.40],[10.8,1.28],[11.1,1.18],[11.4,1.36],[11.6,1.24],[11.9,1.43],[12.2,1.30],[12.4,1.20],[12.7,1.38],[12.9,1.25],
  [13.2,1.48],[13.5,1.22],[13.7,1.33],[14.0,1.19],[14.3,1.41],[14.6,1.27],[14.8,1.35],[15.1,1.21],[15.4,1.29],[15.7,1.44],[15.9,1.18],[16.2,1.32],[16.5,1.24],[16.8,1.39],[17.0,1.20],[17.3,1.30],[17.6,1.46],[17.9,1.23],[18.1,1.35],[18.4,1.19],
  [18.7,1.28],[19.0,1.42],[19.2,1.22],[19.5,1.33],[19.8,1.18],[20.1,1.26],[20.4,1.37],[20.6,1.21],[20.9,1.45],[21.2,1.29],[21.5,1.19],[21.7,1.34],[22.0,1.23],[22.3,1.40],[22.6,1.27],[22.9,1.20],[23.1,1.31],[23.4,1.47],[23.7,1.24],[24.0,1.18],
  [24.3,1.36],[24.5,1.22],[24.8,1.30],[25.1,1.43],[25.4,1.19],[25.7,1.26],[26.0,1.38],[26.2,1.21],[26.5,1.32],[26.8,1.18],[27.1,1.25],[27.4,1.44],[27.7,1.20],[28.0,1.29],[28.3,1.19],[28.6,1.23],[28.9,1.48],[29.2,1.21],[29.5,1.18],[29.8,1.27],
  [30.1,1.20],[30.4,1.24],[30.7,1.18],[31.0,1.22],[31.3,1.19],[31.6,1.26],[31.9,1.21],[32.2,1.18],[32.5,1.23],[32.8,1.20],[33.1,1.25],[33.4,1.18],[33.7,1.22],[34.0,1.19],[34.3,1.27],[34.6,1.21],[34.9,1.18],[35.2,1.24],[35.5,1.20],[35.8,1.19],
  [36.1,1.26],[36.4,1.22],[36.7,1.18],[37.0,1.23],[37.3,1.20],[37.6,1.25],[37.9,1.19],[38.2,1.22],[38.5,1.18],[38.8,1.24],[39.1,1.21],[39.4,1.19],[39.7,1.26],[40.0,1.22],[40.3,1.19],[40.6,1.24],[40.9,1.20],[41.2,1.27],[41.5,1.18],[41.8,1.23],
  [42.1,1.21],[42.4,1.25],[42.7,1.19],[43.0,1.22],[43.3,1.28],[43.6,1.20],[43.9,1.24],[44.2,1.19],[44.5,1.26],[44.8,1.22],[45.1,1.32],[45.4,1.20],[45.7,1.25],[46.0,1.19],[46.3,1.23],[46.6,1.29],[46.9,1.21],[47.2,1.27],[47.5,1.19],[47.8,1.24],
  [48.1,1.36],[48.4,1.22],[48.7,1.30],[49.0,1.20],[49.3,1.26],[49.6,1.19],[49.9,1.23],[46.8,1.41],[47.9,1.46],[44.1,1.47],[31.5,1.47],[37.2,1.48]
];

// sparse events below the main band
const eventsBelow = [
  [3.0,0.48],[3.3,0.42],[3.6,0.53],[3.9,0.37],[4.2,0.50],[4.5,0.44],[4.8,0.56],[5.1,0.40],[5.4,0.47],[5.7,0.33],[6.0,0.52],[6.3,0.45],[6.6,0.38],[6.9,0.55],[7.2,0.43],[7.5,0.50],[7.8,0.35],[8.1,0.47],[8.4,0.54],[8.7,0.41],
  [9.0,0.49],[9.3,0.36],[9.6,0.52],[9.9,0.44],[10.2,0.50],[10.5,0.39],[10.8,0.47],[11.1,0.53],[11.4,0.42],[11.7,0.48],[3.8,0.27],[4.6,0.30],[5.5,0.22],[6.2,0.28],[7.0,0.24],[8.2,0.19],[9.1,0.23],[10.4,0.27],[11.2,0.18],[3.4,0.33],
  [5.0,0.26],[4.0,0.20],[6.8,0.15],[7.4,0.12],[8.8,0.16],[9.8,0.08],[3.7,0.30],[4.0,0.28],[4.3,0.26],[4.6,0.25],[4.1,0.33],[4.8,0.29],[3.5,0.36],[5.2,0.31],[3.5,0.14],[4.1,0.04],[6.0,0.085],[7.8,0.085],[9.0,0.06],
  [11.4,0.06],[10.6,-0.02],
  [12.3,0.66],[12.8,0.58],[13.2,0.70],[13.6,0.52],[14.1,0.63],[14.5,0.68],[14.9,0.46],[15.3,0.60],[15.8,0.55],[16.2,0.69],[16.7,0.62],[17.1,0.50],[17.5,0.66],[18.0,0.59],[18.6,0.71],[19.1,0.64],[19.7,0.53],[20.2,0.67],[20.8,0.60],[21.3,0.70],
  [21.9,0.57],[22.4,0.65],[22.9,0.49],[23.5,0.68],[24.1,0.61],[24.7,0.56],[25.2,0.69],[25.8,0.63],[26.4,0.45],[27.0,0.67],[27.6,0.58],[28.2,0.70],[28.3,0.48],[29.2,0.50],[29.9,0.62],[30.5,0.68],[31.1,0.55],[31.7,0.66],[32.3,0.51],[32.9,0.69],
  [33.5,0.60],[34.1,0.64],[34.8,0.54],[35.4,0.70],[36.0,0.61],[36.7,0.42],[37.3,0.67],[37.9,0.57],[38.5,0.63],[38.8,0.32],[39.4,0.69],[40.1,0.55],[40.8,0.66],[41.4,0.60],[42.0,0.70],[42.7,0.52],[43.3,0.64],[43.9,0.58],[44.6,0.68],[45.2,0.49],
  [45.9,0.62],[46.5,0.67],[47.1,0.56],[47.8,0.65],[48.4,0.70],[49.0,0.59],[49.6,0.66],[15.9,0.15],[22.0,0.15],[23.6,0.11],[26.9,0.12],[35.2,0.115],[44.8,0.0],[12.5,0.13],[18.4,0.31],[14.3,0.38],[30.8,0.36],[41.6,0.28]
];

// events at the lowest energies, left of the band
const eventsThreshold = [
  [0.67,1.40],[0.67,1.0],[0.76,0.66],[0.76,0.085],[0.76,-0.22],[0.95,-0.41],[1.1,-0.45],[1.6,0.24],[0.95,0.34],[0.5,0.32]
];

const events = [].concat(eventsLow, eventsMid, eventsHigh, eventsTop, eventsCore, eventsFringe, eventsAbove, eventsBelow, eventsThreshold);

// ---------- styling ----------
const HAND = "'DejaVu Sans', sans-serif";
const PLAIN = "'Liberation Sans', Arial, sans-serif";
const AXIS_COLOR = '#5a5a5a';
const DOT_BLUE = '#2a2ad8';
const GREEN = '#2f9a2f';
const DASH_RED = 'rgba(226,88,70,0.95)';

function hatchPattern() {
  const c = document.createElement('canvas');
  c.width = 4; c.height = 4;
  const g = c.getContext('2d');
  g.fillStyle = '#ec2c1c';
  g.fillRect(0, 0, 4, 4);
  g.fillStyle = 'rgba(255,205,185,0.9)';
  g.fillRect(3, 0, 1, 4);
  g.fillRect(0, 3, 4, 1);
  return c;
}

const baseX = {
  type: 'value', min: xTickValues[0], max: xTickValues[xTickValues.length - 1], interval: 10,
  axisLine: { onZero: false, lineStyle: { color: AXIS_COLOR, width: 1.5 } },
  splitLine: { show: false },
  minorTick: { show: true, splitNumber: 5, length: 3, lineStyle: { color: AXIS_COLOR } },
  axisTick: { length: 5, lineStyle: { color: AXIS_COLOR } }
};
const baseY = {
  type: 'value', min: yTickValues[0], max: yTickValues[yTickValues.length - 1], interval: 0.5,
  axisLine: { onZero: false, lineStyle: { color: AXIS_COLOR, width: 1.5 } },
  splitLine: { show: false },
  minorTick: { show: true, splitNumber: 5, length: 3, lineStyle: { color: AXIS_COLOR } },
  axisTick: { length: 5, lineStyle: { color: AXIS_COLOR } }
};

const shaded = tungstenLine.filter(p => p[0] >= acceptance[0] && p[0] <= acceptance[1]);

const chart = echarts.init(document.getElementById('chart'), null, { renderer: 'canvas' });

chart.setOption({
  animation: false,
  backgroundColor: '#ffffff',
  title: {
    text: '{a|10.72 kg days CaWO}{s|4}',
    left: 96, top: 6,
    textStyle: {
      rich: {
        a: { fontFamily: HAND, fontSize: 21, fontWeight: 'bold', color: '#141414', lineHeight: 30 },
        s: { fontFamily: HAND, fontSize: 14, fontWeight: 'bold', color: '#141414', lineHeight: 16, verticalAlign: 'bottom' }
      }
    }
  },
  grid: { left: 90, top: 45, width: 526, height: 378 },
  xAxis: [
    Object.assign({}, baseX, {
      position: 'bottom',
      axisTick: Object.assign({}, baseX.axisTick, { inside: false }),
      axisLabel: { color: '#8c8c8c', fontSize: 14, fontFamily: PLAIN, margin: 9 }
    }),
    Object.assign({}, baseX, {
      position: 'top',
      axisTick: Object.assign({}, baseX.axisTick, { inside: true }),
      axisLabel: { show: false }
    })
  ],
  yAxis: [
    Object.assign({}, baseY, {
      position: 'left',
      axisTick: Object.assign({}, baseY.axisTick, { inside: false }),
      axisLabel: {
        color: '#8c8c8c', fontSize: 14, fontFamily: PLAIN, margin: 9,
        formatter: v => {
          const i = yTickValues.findIndex(t => Math.abs(t - v) < 1e-9);
          return i >= 0 ? yTickLabels[i] : '';
        }
      }
    }),
    Object.assign({}, baseY, {
      position: 'right',
      axisTick: Object.assign({}, baseY.axisTick, { inside: true }),
      axisLabel: { show: false }
    })
  ],
  series: [
    {
      name: 'events', type: 'scatter', data: events,
      symbol: 'circle', symbolSize: 5.5,
      itemStyle: { color: DOT_BLUE, opacity: 1 },
      z: 2, silent: true
    },
    {
      name: 'tungsten acceptance', type: 'line', data: shaded,
      smooth: 0.3, symbol: 'none',
      lineStyle: { width: 0, opacity: 0 },
      areaStyle: { origin: 'start', opacity: 1, color: { image: hatchPattern(), repeat: 'repeat' } },
      z: 3, silent: true
    },
    {
      name: 'oxygen lower', type: 'line', data: oxygenLower,
      smooth: 0.3, symbol: 'none',
      lineStyle: { color: DASH_RED, width: 2, type: [9, 6] },
      z: 4, silent: true
    },
    {
      name: 'oxygen upper', type: 'line', data: oxygenUpper,
      smooth: 0.3, symbol: 'none',
      lineStyle: { color: DASH_RED, width: 2, type: [9, 6] },
      z: 4, silent: true
    },
    {
      name: 'tungsten', type: 'line', data: tungstenLine,
      smooth: 0.3, symbol: 'none',
      lineStyle: { color: '#1c1c1c', width: 1.5 },
      z: 5, silent: true,
      markLine: {
        silent: true, symbol: 'none', animation: false,
        label: { show: false },
        lineStyle: { color: '#151515', width: 2, type: [2, 2.5] },
        data: cutLines.map(v => ({ xAxis: v }))
      }
    }
  ]
});

// ---------- annotations ----------
const P = (x, y) => chart.convertToPixel({ gridIndex: 0 }, [x, y]);

function arrow(x1, y1, x2, y2, color, width, head) {
  const a = Math.atan2(y2 - y1, x2 - x1);
  const bx = x2 - head * Math.cos(a), by = y2 - head * Math.sin(a);
  const nx = -Math.sin(a) * head * 0.42, ny = Math.cos(a) * head * 0.42;
  return [
    { type: 'line', z: 100, shape: { x1: x1, y1: y1, x2: bx, y2: by }, style: { stroke: color, lineWidth: width } },
    { type: 'polygon', z: 100, shape: { points: [[x2, y2], [bx + nx, by + ny], [bx - nx, by - ny]] }, style: { fill: color } }
  ];
}

function textLine(x, y, text, color, size, weight, family) {
  return {
    type: 'text', z: 101, x: x, y: y,
    style: { text: text, fill: color, fontSize: size, fontWeight: weight || 'bold', fontFamily: family || HAND, textVerticalAlign: 'middle' }
  };
}

const pinkTL = P(9.7, 0.16), pinkBR = P(12.6, -0.065);
const loopTL = P(17.8, -0.048), loopBR = P(28.8, -0.385);
const twoEv = P(6.86, -0.21);
const noEv = P(19.6, -0.235);
const redTip = P(28.1, 0.22);
const blackTip = P(37.4, 0.016);

const graphics = [
  // axis titles
  { type: 'text', z: 101, x: 334, y: 468,
    style: { text: 'energy phonon channel [keV]', fill: '#141414', fontSize: 20, fontWeight: 'bold', fontFamily: HAND, textAlign: 'center', textVerticalAlign: 'middle' } },
  { type: 'text', z: 101, x: 26, y: 222, rotation: Math.PI / 2,
    style: { text: 'light to phonon ratio', fill: '#141414', fontSize: 20, fontWeight: 'bold', fontFamily: HAND, textAlign: 'center', textVerticalAlign: 'middle' } },

  // plot label box
  { type: 'rect', z: 100, shape: { x: 350, y: 56, width: 232, height: 46 },
    style: { fill: '#ffffff', stroke: '#6e6e6e', lineWidth: 1.5 } },
  { type: 'text', z: 101, x: 466, y: 79,
    style: { text: 'no neutron moderator!', fill: '#222', fontSize: 21, fontFamily: PLAIN, textAlign: 'center', textVerticalAlign: 'middle' } },

  // event counts inside the acceptance region
  { type: 'rect', z: 100, shape: { x: pinkTL[0], y: pinkTL[1], width: pinkBR[0] - pinkTL[0], height: pinkBR[1] - pinkTL[1], r: 6 },
    style: { fill: 'none', stroke: '#c845a0', lineWidth: 2 } },
  textLine(twoEv[0], twoEv[1], '2 events', '#e2508c', 23, 'normal'),
  { type: 'rect', z: 100, shape: { x: loopTL[0], y: loopTL[1], width: loopBR[0] - loopTL[0], height: loopBR[1] - loopTL[1], r: 26 },
    style: { fill: 'none', stroke: 'rgba(205,25,70,0.55)', lineWidth: 2.5 } },
  textLine(noEv[0], noEv[1], 'no events!', 'rgba(200,20,70,0.5)', 21, 'normal'),

  // oxygen box
  { type: 'rect', z: 100, shape: { x: 647, y: 4, width: 240, height: 293 },
    style: { fill: '#ffffff', stroke: '#a0a0a0', lineWidth: 1.5 } },
  textLine(658, 26, 'oxygen recoils:', GREEN, 20),
  textLine(737, 73, 'Q = 7.4', GREEN, 20),
  textLine(658, 113, '90 % of oxygen', GREEN, 20),
  textLine(658, 145, 'recoils below', GREEN, 20),
  textLine(658, 177, 'upper red line', GREEN, 20),
  textLine(658, 220, 'compatible with', GREEN, 20),
  textLine(658, 252, 'expected neutron', GREEN, 20),
  textLine(658, 283, 'background (MC)', GREEN, 20),

  // tungsten box
  { type: 'rect', z: 100, shape: { x: 648, y: 303, width: 240, height: 189 },
    style: { fill: '#ffffff', stroke: '#a0a0a0', lineWidth: 1.5 } },
  textLine(661, 328, 'tungsten recoils', '#161616', 20),
  textLine(727, 370, 'Q = 40', '#161616', 20),
  textLine(658, 413, '90 % of tungsten', '#161616', 20),
  textLine(658, 445, 'recoils below black', '#161616', 20),
  textLine(658, 477, 'line', '#161616', 20)
]
  .concat(arrow(641, 52, redTip[0], redTip[1], '#e8331f', 3, 14))
  .concat(arrow(648, 371, blackTip[0], blackTip[1], '#141414', 2.5, 11));

chart.setOption({ graphic: graphics });
</script>
</body>
</html>
